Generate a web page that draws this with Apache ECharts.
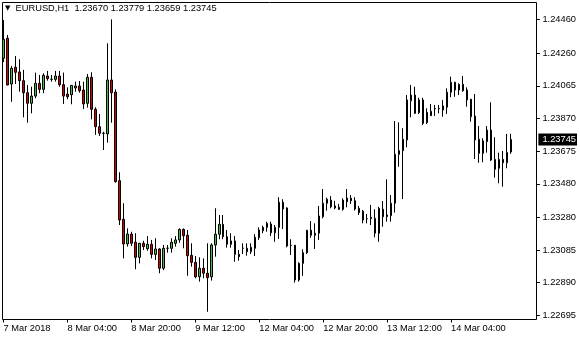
<!DOCTYPE html>
<html><head><meta charset="utf-8">
<script src="https://cdn.jsdelivr.net/npm/echarts@6/dist/echarts.min.js"></script>
<style>html,body{margin:0;padding:0;background:#fff}#c{width:580px;height:340px}</style>
</head><body><div id="c"></div>
<script>
// EURUSD H1 candles (open, high, low, close)
const opens = [1.24230,1.24349,1.24076,1.24176,1.24148,1.24096,1.24024,1.23961,1.24004,1.24080,
1.24044,1.24124,1.24105,1.24104,1.24124,1.24072,1.24016,1.24012,1.24052,1.24064,
1.24040,1.23961,1.24116,1.23925,1.23821,1.23782,1.23778,1.24100,1.24028,1.23499,
1.23268,1.23121,1.23180,1.23131,1.23041,1.23125,1.23093,1.23119,1.23059,1.23091,
1.22976,1.23095,1.23095,1.23125,1.23145,1.23208,1.23173,1.23053,1.23011,1.22925,
1.22976,1.22946,1.22925,1.23115,1.23179,1.23238,1.23164,1.23119,1.23139,1.23059,
1.23096,1.23095,1.23075,1.23095,1.23158,1.23200,1.23220,1.23240,1.23188,1.23220,
1.23370,1.23336,1.23112,1.23113,1.22906,1.23005,1.23069,1.23203,1.23185,1.23185,
1.23284,1.23364,1.23383,1.23348,1.23340,1.23328,1.23373,1.23394,1.23379,1.23334,
1.23316,1.23272,1.23272,1.23274,1.23185,1.23328,1.23284,1.23290,1.23364,1.23656,
1.23678,1.23742,1.23976,1.24010,1.23905,1.23981,1.23845,1.23887,1.23929,1.23930,
1.23921,1.23937,1.24027,1.24086,1.24040,1.24074,1.24040,1.23985,1.23885,1.23746,
1.23662,1.23732,1.23801,1.23626,1.23573,1.23626,1.23606,1.23670];
const highs = [1.24458,1.24369,1.24184,1.24243,1.24224,1.24160,1.24070,1.24060,1.24144,1.24130,
1.24140,1.24154,1.24130,1.24154,1.24154,1.24144,1.24056,1.24070,1.24090,1.24094,
1.24090,1.24136,1.24146,1.23937,1.23897,1.23791,1.24319,1.24462,1.24044,1.23549,
1.23364,1.23214,1.23194,1.23185,1.23127,1.23140,1.23168,1.23145,1.23155,1.23095,
1.23115,1.23115,1.23155,1.23168,1.23214,1.23214,1.23204,1.23125,1.23049,1.23041,
1.23035,1.23125,1.23125,1.23334,1.23294,1.23294,1.23204,1.23185,1.23168,1.23085,
1.23125,1.23125,1.23125,1.23179,1.23220,1.23230,1.23254,1.23254,1.23234,1.23400,
1.23388,1.23340,1.23149,1.23115,1.23011,1.23089,1.23205,1.23258,1.23244,1.23348,
1.23449,1.23397,1.23407,1.23379,1.23360,1.23394,1.23449,1.23413,1.23400,1.23348,
1.23324,1.23300,1.23354,1.23328,1.23343,1.23377,1.23507,1.23413,1.23855,1.23847,
1.23812,1.24010,1.24070,1.24060,1.23994,1.23994,1.23931,1.23957,1.23951,1.23951,
1.23981,1.24050,1.24120,1.24090,1.24080,1.24124,1.24056,1.23987,1.24016,1.23825,
1.23752,1.23825,1.23967,1.23758,1.23666,1.23676,1.23778,1.23779];
const lows = [1.24207,1.24068,1.23970,1.24076,1.24030,1.23877,1.23845,1.23901,1.23991,1.24021,
1.24021,1.24096,1.24090,1.24090,1.24060,1.23957,1.23985,1.23955,1.24030,1.24024,
1.23927,1.23935,1.23865,1.23772,1.23766,1.23682,1.23726,1.23845,1.23487,1.23234,
1.23035,1.23105,1.23109,1.22970,1.23005,1.23085,1.23081,1.23035,1.23025,1.22946,
1.22965,1.23069,1.23069,1.23105,1.23128,1.23095,1.22931,1.22985,1.22916,1.22896,
1.22916,1.22716,1.22902,1.23045,1.23149,1.23149,1.23099,1.23099,1.23015,1.23021,
1.23061,1.23051,1.23061,1.23049,1.23145,1.23185,1.23194,1.23168,1.23134,1.23151,
1.23210,1.23101,1.23055,1.22890,1.22896,1.22930,1.23061,1.23158,1.23091,1.23145,
1.23274,1.23320,1.23334,1.23328,1.23324,1.23320,1.23340,1.23360,1.23320,1.23294,
1.23244,1.23244,1.23234,1.23161,1.23134,1.23224,1.23254,1.23254,1.23308,1.23582,
1.23389,1.23698,1.23877,1.23897,1.23897,1.23831,1.23837,1.23885,1.23885,1.23901,
1.23881,1.23897,1.23997,1.24000,1.24010,1.24030,1.23941,1.23851,1.23628,1.23606,
1.23609,1.23666,1.23616,1.23517,1.23483,1.23463,1.23573,1.23659];
const closes = [1.24343,1.24070,1.24170,1.24146,1.24096,1.24024,1.23961,1.24004,1.24080,1.24044,
1.24128,1.24108,1.24104,1.24124,1.24072,1.24004,1.24000,1.24068,1.24064,1.24036,
1.23957,1.24116,1.23925,1.23821,1.23782,1.23781,1.24100,1.24024,1.23493,1.23264,
1.23121,1.23180,1.23125,1.23041,1.23125,1.23105,1.23119,1.23059,1.23091,1.22976,
1.23095,1.23096,1.23131,1.23145,1.23208,1.23170,1.23051,1.23011,1.22925,1.22976,
1.22946,1.22920,1.23115,1.23179,1.23238,1.23164,1.23119,1.23139,1.23059,1.23045,
1.23095,1.23075,1.23101,1.23161,1.23204,1.23220,1.23244,1.23188,1.23220,1.23370,
1.23330,1.23109,1.23113,1.22906,1.23005,1.23069,1.23203,1.23173,1.23173,1.23288,
1.23364,1.23388,1.23343,1.23336,1.23328,1.23383,1.23395,1.23379,1.23330,1.23308,
1.23264,1.23271,1.23280,1.23185,1.23334,1.23284,1.23294,1.23364,1.23656,1.23678,
1.23746,1.23981,1.24010,1.23901,1.23981,1.23841,1.23907,1.23913,1.23928,1.23928,
1.23945,1.24027,1.24086,1.24040,1.24074,1.24036,1.23981,1.23881,1.23742,1.23662,
1.23736,1.23801,1.23622,1.23567,1.23626,1.23606,1.23668,1.23745];

const xTickLabels = ['7 Mar 2018','8 Mar 04:00','8 Mar 20:00','9 Mar 12:00','12 Mar 04:00','12 Mar 20:00','13 Mar 12:00','14 Mar 04:00'];
const yTickValues = [1.22695,1.22890,1.23085,1.23280,1.23480,1.23675,1.23870,1.24065,1.24260,1.24460];
const symbolName = 'EURUSD,H1';
const lastBar = [1.23670, 1.23779, 1.23659, 1.23745];
const lastPrice = 1.23745;

const FONT = 'Liberation Sans';
const FS = 9.3;
const SLOTS = 134; // visible bar slots incl. right shift
const Y_MIN = 1.226699, Y_MAX = 1.245627;
const cats = [];
for (let i = 0; i < SLOTS; i++) cats.push(i);
const candles = opens.map((o, i) => [o, closes[i], lows[i], highs[i]]);
const isLabelled = (i) => i % 16 === 0 && xTickLabels[i / 16] !== undefined;

const chart = echarts.init(document.getElementById('c'), null, {renderer: 'canvas'});
chart.setOption({
  animation: false,
  backgroundColor: '#ffffff',
  title: {
    text: '{t|▼}  ' + symbolName + '  ' + lastBar.map(v => v.toFixed(5)).join(' '),
    left: 5, top: 4, padding: 0,
    textStyle: {fontFamily: FONT, fontSize: FS, fontWeight: 'normal', color: '#000',
      rich: {t: {fontFamily: 'DejaVu Sans', fontSize: 7, color: '#000'}}}
  },
  grid: [
    {left: 1.5, top: 2.5, bottom: 20.5, width: SLOTS * 4, show: false},
    {left: 2.5, top: 2.5, right: 43.5, bottom: 20.5, show: true, borderColor: '#000', borderWidth: 1, backgroundColor: 'rgba(0,0,0,0)'}
  ],
  xAxis: [
    {type: 'category', gridIndex: 0, data: cats, boundaryGap: true,
      axisLine: {show: false},
      axisTick: {show: true, alignWithLabel: true, interval: (i) => isLabelled(i), length: 3, lineStyle: {color: '#000', width: 1}},
      axisLabel: {interval: (i) => isLabelled(i), formatter: (v, i) => xTickLabels[i / 16] || '', align: 'left', margin: 4,
        fontFamily: FONT, fontSize: FS, color: '#000'},
      splitLine: {show: false}},
    {type: 'category', gridIndex: 1, data: [0], show: false}
  ],
  yAxis: [
    {type: 'value', gridIndex: 0, position: 'right', min: Y_MIN, max: Y_MAX,
      axisLine: {show: false},
      axisTick: {show: true, length: 3, customValues: yTickValues, lineStyle: {color: '#000', width: 1}},
      axisLabel: {customValues: yTickValues, formatter: (v) => Number(v).toFixed(5), margin: 5.5,
        fontFamily: FONT, fontSize: FS, color: '#000'},
      splitLine: {show: false}},
    {type: 'value', gridIndex: 1, show: false},
    {type: 'value', gridIndex: 0, position: 'right', offset: 0, min: Y_MIN, max: Y_MAX,
      axisLine: {show: false}, axisTick: {show: false}, splitLine: {show: false},
      axisLabel: {customValues: [lastPrice], formatter: (v) => Number(v).toFixed(5), margin: 1.5,
        backgroundColor: '#000', color: '#fff', padding: [2, 1, 1, 4], fontFamily: FONT, fontSize: FS}}
  ],
  series: [{
    type: 'candlestick', xAxisIndex: 0, yAxisIndex: 0, data: candles,
    barWidth: 2,
    itemStyle: {color: '#3fbf3f', color0: '#d40000', borderColor: '#000', borderColor0: '#000', borderColorDoji: '#000', borderWidth: 1},
    emphasis: {disabled: true}
  }]
});
</script></body></html>
